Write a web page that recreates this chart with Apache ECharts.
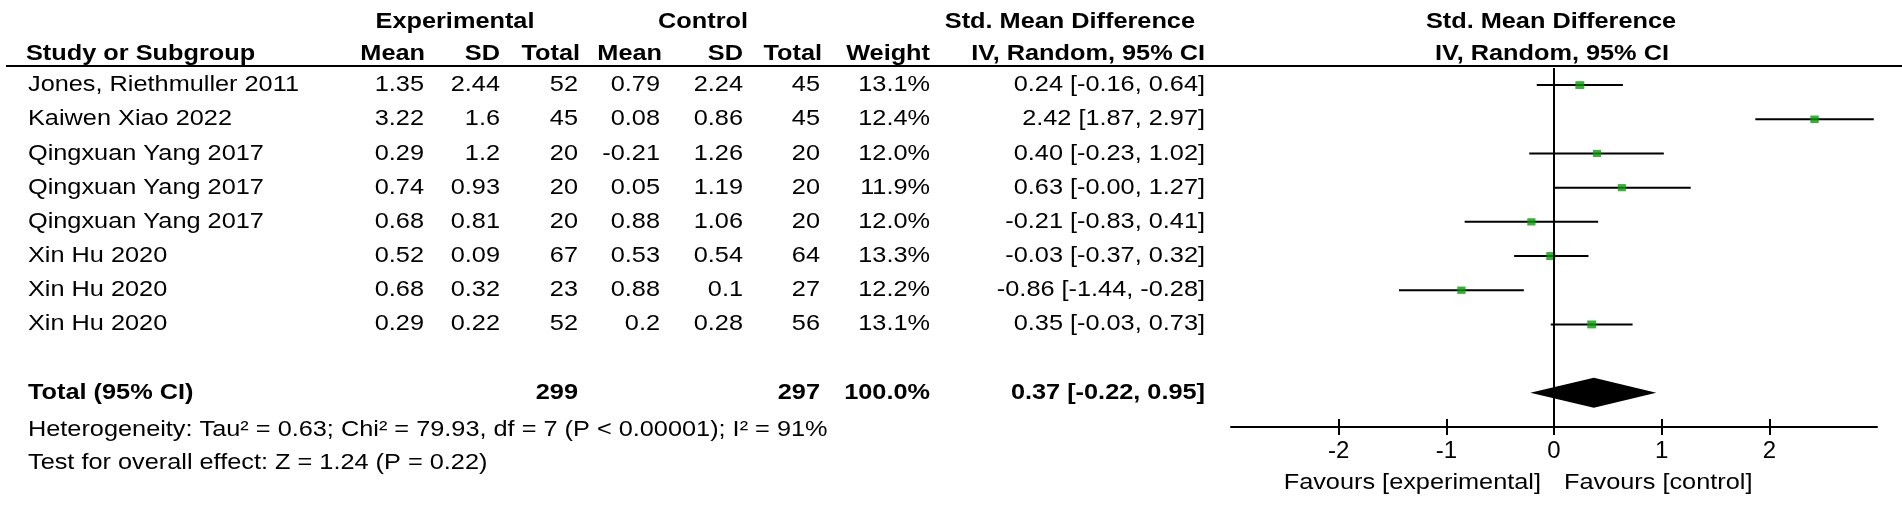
<!DOCTYPE html>
<html>
<head>
<meta charset="utf-8">
<script src="https://cdn.jsdelivr.net/npm/echarts@6/dist/echarts.min.js"></script>
<style>
html,body{margin:0;padding:0;background:#fff;}
#main{width:1902px;height:510px;}
</style>
</head>
<body>
<div id="main"></div>
<script>
// study rows
var studies = ['Jones, Riethmuller 2011','Kaiwen Xiao 2022','Qingxuan Yang 2017','Qingxuan Yang 2017','Qingxuan Yang 2017','Xin Hu 2020','Xin Hu 2020','Xin Hu 2020'];
var expMean = [1.35, 3.22, 0.29, 0.74, 0.68, 0.52, 0.68, 0.29];
var expSD = [2.44, 1.6, 1.2, 0.93, 0.81, 0.09, 0.32, 0.22];
var expTotal = [52, 45, 20, 20, 20, 67, 23, 52];
var ctlMean = [0.79, 0.08, -0.21, 0.05, 0.88, 0.53, 0.88, 0.2];
var ctlSD = [2.24, 0.86, 1.26, 1.19, 1.06, 0.54, 0.1, 0.28];
var ctlTotal = [45, 45, 20, 20, 20, 64, 27, 56];
var weight = [13.1, 12.4, 12.0, 11.9, 12.0, 13.3, 12.2, 13.1];
var smd = [0.24, 2.42, 0.40, 0.63, -0.21, -0.03, -0.86, 0.35];
var ciLow = [-0.16, 1.87, -0.23, -0.00, -0.83, -0.37, -1.44, -0.03];
var ciHigh = [0.64, 2.97, 1.02, 1.27, 0.41, 0.32, -0.28, 0.73];

// pooled result
var totalExp = 299, totalCtl = 297, totalWeight = 100.0;
var pooled = [0.37, -0.22, 0.95];
var tau2 = 0.63, chi2 = 79.93, df = 7, pHet = '< 0.00001', i2 = 91;
var zVal = 1.24, pZ = 0.22;

var xTicks = [-2, -1, 0, 1, 2];
var TOTAL_ROW = 10;

var FONT = '"Liberation Sans", Arial, sans-serif';
var FS = 22;
var SX = 1.15; // text in the figure is a little wide

function f2(v){ return (Object.is(v, -0) ? '-' : '') + v.toFixed(2); }
function ciText(e, l, h){ return f2(e) + ' [' + f2(l) + ', ' + f2(h) + ']'; }

// column anchors (right aligned, study name left aligned)
var COL = {name:28, expMean:424, expSD:500, expTotal:578, ctlMean:660, ctlSD:743, ctlTotal:820, weight:930, ci:1205};

var chart = echarts.init(document.getElementById('main'));

function txt(x, y, s, align, bold){
	return {type:'text', x:x, y:y, scaleX:SX, scaleY:1,
		style:{text:s, align:align, verticalAlign:'middle', fontSize:FS, fontFamily:FONT, fontWeight:bold?'bold':'normal', fill:'#000'}};
}

var tableData = studies.map(function(s, i){ return [0, i + 1, i]; });
tableData.push([0, TOTAL_ROW, -1]);

var option = {
	animation:false,
	backgroundColor:'#fff',
	grid:{left:1231, right:25, top:68, bottom:83},
	xAxis:[{
		type:'value', min:-3, max:3, interval:1,
		axisLine:{lineStyle:{color:'#000', width:2}},
		axisTick:{customValues:xTicks, length:8, lineStyle:{color:'#000', width:2}},
		axisLabel:{customValues:xTicks, color:'#000', fontSize:24, fontFamily:FONT, margin:12},
		splitLine:{show:false}
	},{
		type:'value', min:-3, max:3, interval:1, position:'bottom',
		axisLine:{show:false},
		axisTick:{customValues:xTicks, inside:true, length:8, lineStyle:{color:'#000', width:2}},
		axisLabel:{show:false},
		splitLine:{show:false}
	}],
	yAxis:{type:'value', min:0.5, max:11, inverse:true, show:false},
	graphic:[
		txt(455, 22, 'Experimental', 'center', true),
		txt(703, 22, 'Control', 'center', true),
		txt(1195, 22, 'Std. Mean Difference', 'right', true),
		txt(1551, 22, 'Std. Mean Difference', 'center', true),
		txt(26, 54, 'Study or Subgroup', 'left', true),
		txt(425, 54, 'Mean', 'right', true),
		txt(500, 54, 'SD', 'right', true),
		txt(580, 54, 'Total', 'right', true),
		txt(662, 54, 'Mean', 'right', true),
		txt(743, 54, 'SD', 'right', true),
		txt(822, 54, 'Total', 'right', true),
		txt(930, 54, 'Weight', 'right', true),
		txt(1205, 54, 'IV, Random, 95% CI', 'right', true),
		txt(1552, 54, 'IV, Random, 95% CI', 'center', true),
		{type:'line', shape:{x1:6, y1:66, x2:1902, y2:66}, style:{stroke:'#000', lineWidth:2}},
		txt(28, 430, 'Heterogeneity: Tau\u00b2 = ' + tau2.toFixed(2) + '; Chi\u00b2 = ' + chi2.toFixed(2) + ', df = ' + df + ' (P ' + pHet + '); I\u00b2 = ' + i2 + '%', 'left', false),
		txt(28, 463, 'Test for overall effect: Z = ' + zVal.toFixed(2) + ' (P = ' + pZ.toFixed(2) + ')', 'left', false),
		txt(1541, 483, 'Favours [experimental]', 'right', false),
		txt(1564, 483, 'Favours [control]', 'left', false)
	],
	series:[
		{
			// table text
			type:'custom', clip:false, silent:true,
			data:tableData,
			renderItem:function(params, api){
				var y = api.coord([0, api.value(1)])[1];
				var i = api.value(2);
				if(i < 0){
					return {type:'group', children:[
						txt(COL.name, y, 'Total (95% CI)', 'left', true),
						txt(COL.expTotal, y, String(totalExp), 'right', true),
						txt(COL.ctlTotal, y, String(totalCtl), 'right', true),
						txt(COL.weight, y, totalWeight.toFixed(1) + '%', 'right', true),
						txt(COL.ci, y, ciText(pooled[0], pooled[1], pooled[2]), 'right', true)
					]};
				}
				return {type:'group', children:[
					txt(COL.name, y, studies[i], 'left', false),
					txt(COL.expMean, y, String(expMean[i]), 'right', false),
					txt(COL.expSD, y, String(expSD[i]), 'right', false),
					txt(COL.expTotal, y, String(expTotal[i]), 'right', false),
					txt(COL.ctlMean, y, String(ctlMean[i]), 'right', false),
					txt(COL.ctlSD, y, String(ctlSD[i]), 'right', false),
					txt(COL.ctlTotal, y, String(ctlTotal[i]), 'right', false),
					txt(COL.weight, y, weight[i].toFixed(1) + '%', 'right', false),
					txt(COL.ci, y, ciText(smd[i], ciLow[i], ciHigh[i]), 'right', false)
				]};
			}
		},
		{
			// confidence intervals
			type:'custom', silent:true,
			data:smd.map(function(v, i){ return [ciLow[i], ciHigh[i], i + 1]; }),
			renderItem:function(params, api){
				var a = api.coord([api.value(0), api.value(2)]);
				var b = api.coord([api.value(1), api.value(2)]);
				return {type:'line', shape:{x1:a[0], y1:a[1], x2:b[0], y2:b[1]}, style:{stroke:'#000', lineWidth:2}};
			},
			markLine:{
				silent:true, symbol:'none', label:{show:false},
				lineStyle:{color:'#000', width:2, type:'solid'},
				data:[{xAxis:0}]
			},
			z:2
		},
		{
			// point estimates
			type:'scatter', symbol:'rect', silent:true,
			data:smd.map(function(v, i){ return [v, i + 1, weight[i]]; }),
			symbolSize:function(d){ return [d[2] * 0.68, d[2] * 0.6]; },
			itemStyle:{color:'#0a9a0a'},
			z:3
		},
		{
			// pooled diamond
			type:'custom', silent:true,
			data:[[pooled[0], pooled[1], pooled[2], TOTAL_ROW]],
			renderItem:function(params, api){
				var c = api.coord([api.value(0), api.value(3)]);
				var l = api.coord([api.value(1), api.value(3)]);
				var r = api.coord([api.value(2), api.value(3)]);
				var h = 15;
				return {type:'polygon', shape:{points:[[l[0], c[1]], [c[0], c[1] - h], [r[0], c[1]], [c[0], c[1] + h]]}, style:{fill:'#000'}};
			},
			z:3
		}
	]
};
chart.setOption(option);
</script>
</body>
</html>
